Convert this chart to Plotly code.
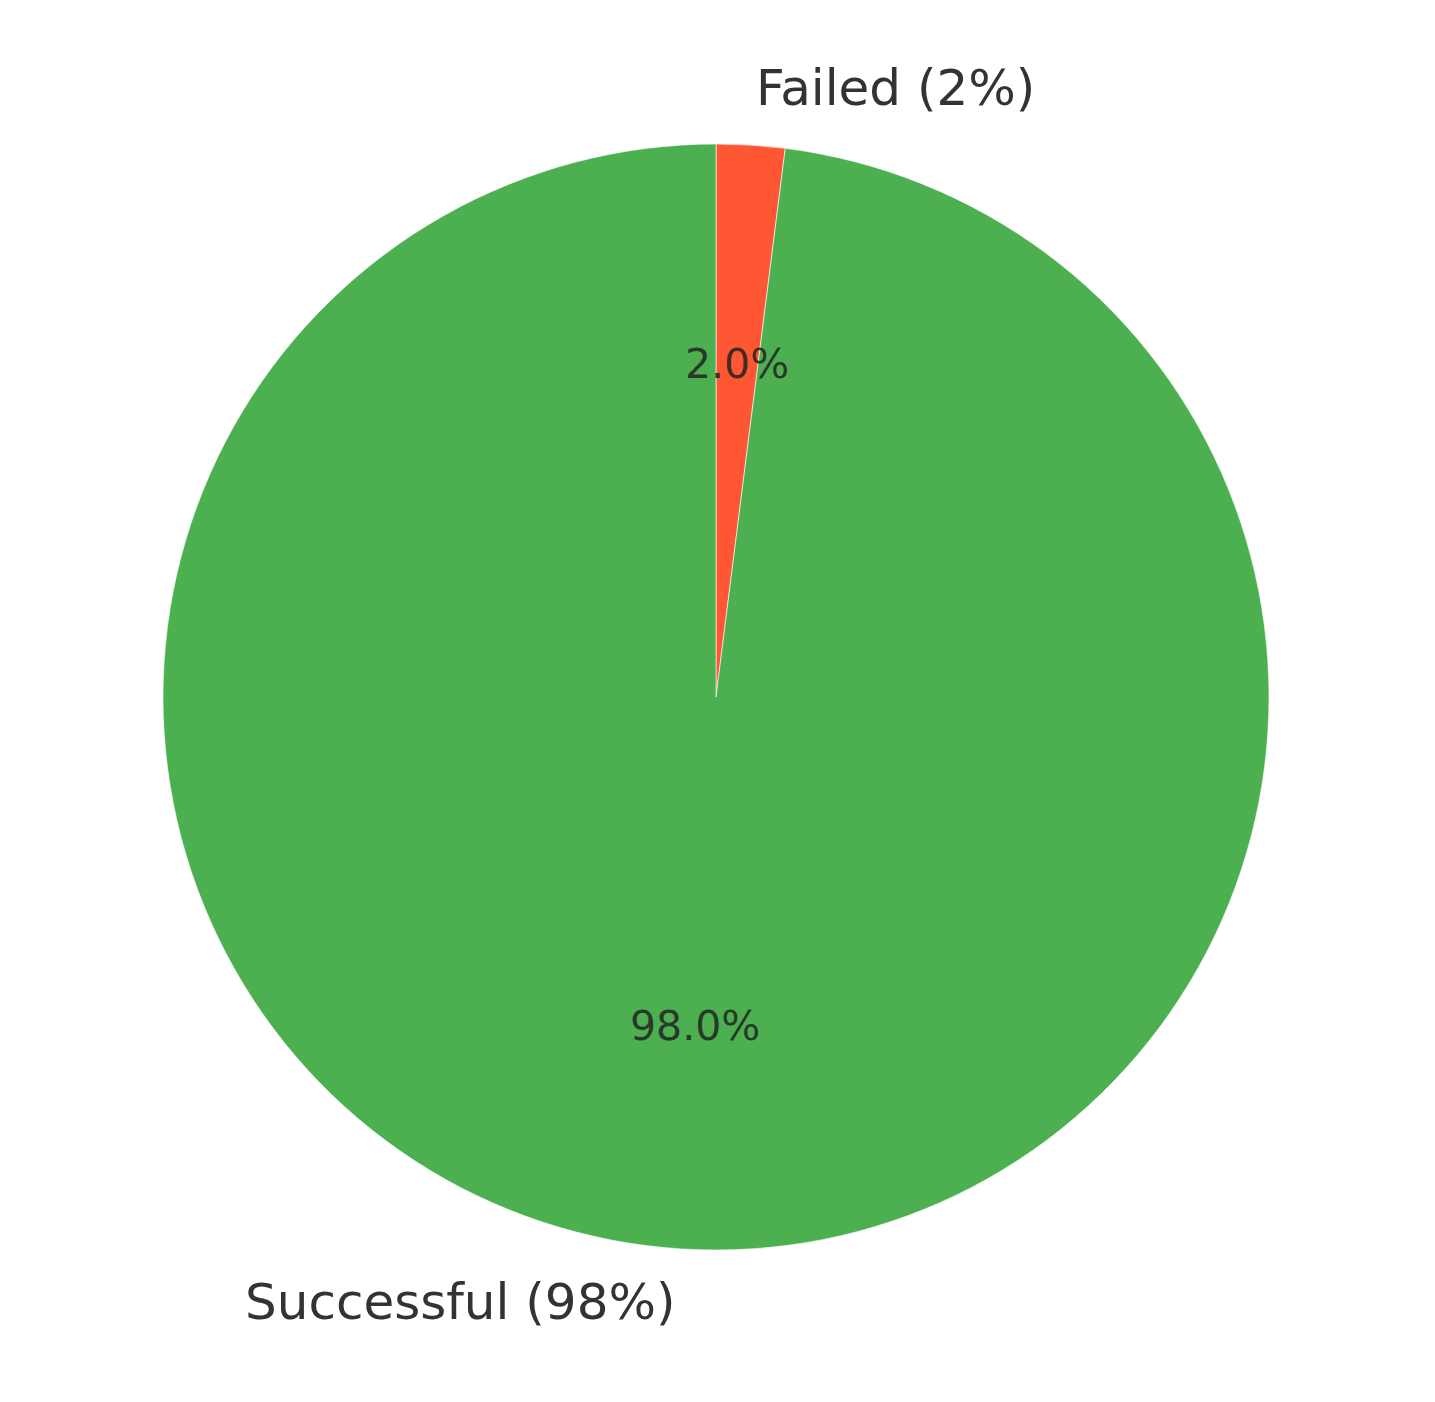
import math
import plotly.graph_objects as go

labels = ['Failed', 'Successful']
values = [2, 98]
colors = ['#FF5733', '#4CAF50']

W, H = 1435, 1402
# pie placement in pixels (page adds ~8px body margin)
cx_px, cy_px, r_px = 708, 689, 553

dom_x = [(cx_px - r_px) / W, (cx_px + r_px) / W]
dom_y = [1 - (cy_px + r_px) / H, 1 - (cy_px - r_px) / H]

fig = go.Figure(go.Pie(
    labels=labels,
    values=values,
    sort=False,
    direction='clockwise',
    rotation=0,
    marker=dict(colors=colors, line=dict(color='white', width=0.6)),
    textinfo='none',
    hoverinfo='label+percent',
    showlegend=False,
    domain=dict(x=dom_x, y=dom_y),
))

# labels like matplotlib: name at 1.1 r, percentage at 0.6 r
total = sum(values)
start = 90.0
annotations = []
for lab, v in zip(labels, values):
    frac = v / total
    mid = start - frac * 360 / 2
    start -= frac * 360
    a = math.radians(mid)
    ux, uy = math.cos(a), math.sin(a)
    # outer label (text baseline sits ~2px higher than plotly centres it)
    lx = (cx_px + 1.1 * r_px * ux) / W
    ly = 1 - (cy_px - 1.1 * r_px * uy - 2) / H
    annotations.append(dict(
        x=lx, y=ly, xref='paper', yref='paper',
        text=f'{lab} ({round(frac * 100)}%)', showarrow=False,
        xanchor='left' if ux > 0 else 'right', yanchor='middle',
        font=dict(family='DejaVu Sans', size=50, color='#333333'),
    ))
    # percentage inside
    px_ = (cx_px + 0.6 * r_px * ux) / W
    py_ = 1 - (cy_px - 0.6 * r_px * uy - 2) / H
    annotations.append(dict(
        x=px_, y=py_, xref='paper', yref='paper',
        text=f'{frac * 100:.1f}%', showarrow=False,
        xanchor='center', yanchor='middle',
        font=dict(family='DejaVu Sans', size=41, color='rgba(34,34,34,0.85)'),
    ))

fig.update_layout(
    width=W, height=H,
    margin=dict(l=0, r=0, t=0, b=0),
    paper_bgcolor='white',
    plot_bgcolor='white',
    annotations=annotations,
)

fig.write_html("out.html")
